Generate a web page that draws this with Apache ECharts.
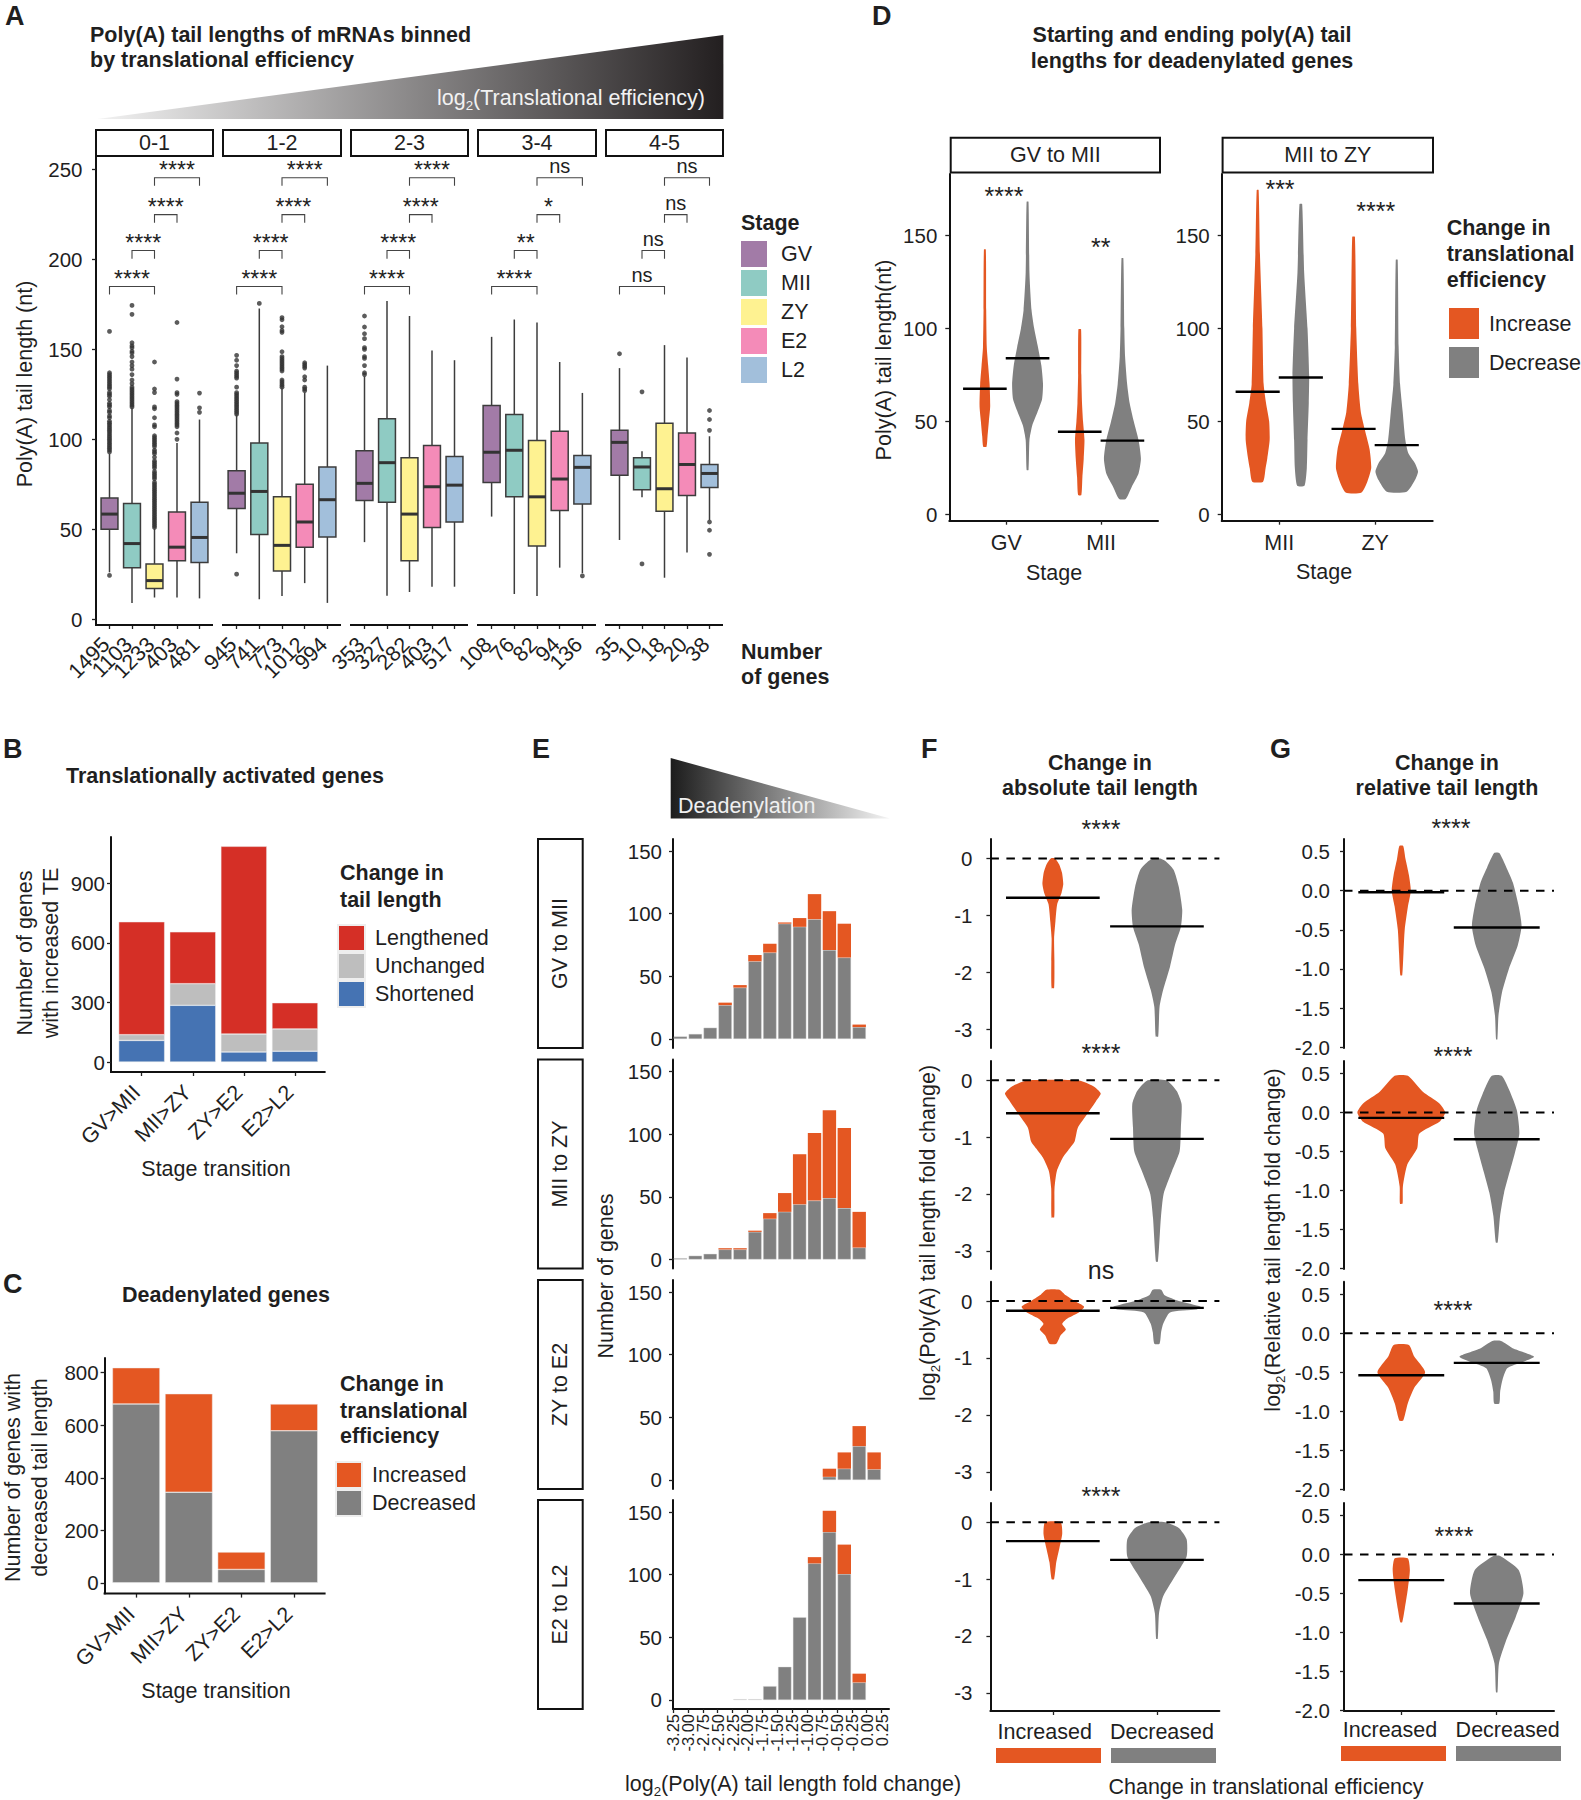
<!DOCTYPE html>
<html><head><meta charset="utf-8"><style>html,body{margin:0;padding:0;background:#fff}#c{width:1581px;height:1800px}</style>
<script src="https://cdn.jsdelivr.net/npm/echarts@6/dist/echarts.min.js"></script></head><body><div id="c"></div>
<script>
// ---------- Panel A data ----------
const stageNames = ['GV','MII','ZY','E2','L2'];
const binNames = ['0-1','1-2','2-3','3-4','4-5'];
const geneCounts = [['1495','1103','1233','403','481'],['945','741','773','1012','994'],['353','327','282','403','517'],['108','76','82','94','136'],['35','10','18','20','38']];
// each row: low, q1, median, q3, high
const boxes01 = [[26,50,58.4,67.3,92],[9,28.6,42,64.3,117.5],[12,17,21.4,30.7,50.4],[12,32.5,40,59.5,98],[11.5,31.4,45.4,65,111]];
const boxes12 = [[36.6,61.5,70,82.5,113.8],[11,47,71,98,172.7],[12.8,26.8,41,68,128.6],[20,40,54,75,126],[9,45.7,66.4,84.6,141]];
const boxes23 = [[42.8,66,75.5,93.7,135],[13,65,87,111.5,177],[15,32.5,58.4,89.8,168.6],[18,51,73.6,96.5,149.4],[18,54,74.5,90.5,144]];
const boxes34 = [[57,76,92.8,118.8,157],[14,68,93.9,113.8,166.7],[12.8,40.7,68,99.3,165],[28.6,60.4,77.9,104.5,143],[25.5,64,84.4,91,125.8]];
const boxes45 = [[44,80,98.3,105,139.6],[67.8,72,84.6,89.8,93.3],[23,60,72.5,109,152.4],[37,68.8,86,103.5,145.5],[55,73.2,81,86,101.7]];
const outliers01 = [[24.3,160,137,136,135,134,133,132,131,130,129,128,126,125,124,122,120,119,118,116,115,113,112,110,109,108,107,106,105,104,103,102,101,100,99,98,97,96,95,94,93],
 [174.5,169.5,153.7,152,151,149,148,146,143,141,139,136,133,131,129,128,127,126,125,124,123,122,121,120,119,118],
 [143,128,126,118,117,112,108,107,102,101,100,99,98,97,96,94,93,92,90,88,87,86,85,84,82,81,80,79,78,76,75,74,73,72,71,70,69,68,67,66,65,64,63,62,61,60,59,58,57,56,55,54,53,52,51],
 [165,133.5,126,125,121,120,119,118,117,116,115,114,113,112,111,110,109,108,107,103.5,100],
 [125.7,117.5,115]];
const outliers12 = [[25,146.7,144,141,138,137,136,135,134,129,126,125,124,123,122,121,120,119,118,117,116,115,114],[175.6],
 [167.7,166.5,162.6,160.5,159.5,148.7,146,145,144,143,142,141,140,139,138,133,132,131,130,129],[142.6,141.6,140.6,139.6,134.8,133,129,128,127],[]];
const outliers23 = [[168.6,162.5,158.7,156,151,150,146,145,141,137,136],[],[],[],[]];
const outliers34 = [[],[],[],[],[24]];
const outliers45 = [[147.6],[126.4,30.7],[],[],[116,111,105,54,49.4,36]];
const sigLabels = [['****','****','****','****'],['****','****','****','****'],['****','****','****','****'],['****','**','*','ns'],['ns','ns','ns','ns']];
// first box index, last box index, bracket height
const sigBrackets = [[0,2,185],[1,2,205],[2,3,225],[2,4,245.5]];
const tickA = [0,50,100,150,200,250];
// ---------- Panels B, C ----------
const transitions = ['GV>MII','MII>ZY','ZY>E2','E2>L2'];
const bShortened = [109,286,51,55];
const bUnchanged = [29,109,90,112];
const bLengthened = [569,261,946,132];
const cDecreased = [681,345,51,579];
const cIncreased = [138,375,66,102];
const tickB = [0,300,600,900];
const tickC = [0,200,400,600,800];
// ---------- Panel E ----------
const binCenters = [-3.125,-2.875,-2.625,-2.375,-2.125,-1.875,-1.625,-1.375,-1.125,-0.875,-0.625,-0.375,-0.125,0.125];
const binEdgeLabels = ['-3.25','-3.00','-2.75','-2.50','-2.25','-2.00','-1.75','-1.50','-1.25','-1.00','-0.75','-0.50','-0.25','0.00','0.25'];
const eGray1 = [2,4,9,27,41,62,69,92,89.5,95.6,71,65,9.5,0];
const eOrange1 = [0,0,0,2,2,5,7,1,7,20,31,27,2,0];
const eGray2 = [1,3,4.5,8,8,22,32.5,38,44,47,49,41,9.5,0];
const eOrange2 = [0,0,0,1,1,1,4.5,15,40,54,70,64,28.5,0];
const eGray3 = [0,0,0,0,0,0,0,0,0,0,2.5,9,27,8.5];
const eOrange3 = [0,0,0,0,0,0,0,0,0,0,6.5,13,16,13.5];
const eGray4 = [0,0,0,0,0.6,0.6,11,26.5,66,109,134,100.5,14,0];
const eOrange4 = [0,0,0,0,0,0,0,0,0,5,17,23.5,7,0];
const tickE = [0,50,100,150];
const eFacetNames = ['GV to MII','MII to ZY','ZY to E2','E2 to L2'];
// ---------- Violin profiles: [tail value, half width] ----------
const dGvInc = [[142.6,.01],[110,.014],[90,.02],[80,.035],[70,.05],[58,.056],[50,.042],[42,.028],[36.4,.017]];
const dGvDec = [[168.3,.01],[130,.02],[110,.042],[100,.07],[90,.11],[80,.146],[70,.163],[62,.153],[55,.104],[48,.05],[40,.02],[23.9,.01]];
const dMiiInc = [[99.6,.014],[75,.017],[60,.024],[50,.035],[40,.05],[30,.042],[20,.028],[10.4,.017]];
const dMiiDec = [[137.8,.01],[100,.02],[85,.028],[70,.05],[60,.076],[50,.12],[40,.17],[30,.195],[22,.17],[15,.1],[8.3,.035]];
const d2MiiInc = [[174.6,.01],[140,.024],[100,.05],[70,.0625],[60,.087],[50,.12],[40,.125],[30,.1],[25,.083],[17.6,.056]];
const d2MiiDec = [[167,.014],[130,.035],[100,.07],[75,.087],[60,.083],[40,.07],[25,.0625],[15.4,.038]];
const d2ZyInc = [[149.4,.014],[100,.028],[70,.05],[55,.076],[45,.12],[35,.167],[25,.184],[18,.146],[11.8,.083]];
const d2ZyDec = [[137,.01],[90,.02],[70,.035],[55,.0625],[40,.09],[33,.12],[27.5,.19],[23,.222],[18.5,.19],[12.2,.104]];
const tickD = [0,50,100,150];
const f1Inc = [[0,.02],[-.1,.06],[-.25,.088],[-.45,.1],[-.6,.084],[-.8,.042],[-1.1,.025],[-1.4,.012],[-1.8,.015],[-2.27,.012]];
const f1Dec = [[0,.033],[-.05,.084],[-.2,.16],[-.5,.21],[-.9,.243],[-1.2,.23],[-1.5,.176],[-1.9,.125],[-2.3,.06],[-2.6,.025],[-3.12,.012]];
const f2Inc = [[0,.24],[-.1,.385],[-.23,.46],[-.36,.417],[-.58,.336],[-.835,.24],[-1.07,.21],[-1.2,.16],[-1.36,.096],[-1.6,.038],[-1.9,.016],[-2.41,.013]];
const f2Dec = [[0,.09],[-.19,.19],[-.42,.237],[-.835,.23],[-1.25,.218],[-1.6,.144],[-2,.064],[-2.42,.038],[-3.19,.01]];
const f3Inc = [[.2,.063],[.1,.125],[0,.21],[-.1,.3],[-.2,.25],[-.3,.146],[-.4,.09],[-.5,.125],[-.6,.075],[-.75,.033]];
const f3Dec = [[.2,.04],[.1,.075],[0,.21],[-.1,.42],[-.15,.38],[-.2,.125],[-.4,.06],[-.55,.04],[-.75,.025]];
const f4Inc = [[0,.075],[-.2,.09],[-.45,.063],[-.7,.033],[-1,.012]];
const f4Dec = [[0,.08],[-.1,.21],[-.3,.285],[-.6,.285],[-.9,.19],[-1.3,.06],[-1.6,.02],[-2.05,.008]];
const g1Inc = [[.57,.02],[.4,.045],[.2,.08],[0,.1],[-.2,.07],[-.5,.036],[-.8,.023],[-1.08,.01]];
const g1Dec = [[.48,.027],[.3,.1],[.1,.17],[-.2,.23],[-.45,.26],[-.7,.22],[-1,.127],[-1.3,.055],[-1.6,.018],[-1.9,.007]];
const g2Inc = [[.47,.07],[.264,.226],[.115,.4],[0,.46],[-.12,.4],[-.27,.19],[-.46,.167],[-.67,.063],[-.95,.017],[-1.17,.014]];
const g2Dec = [[.47,.052],[.285,.132],[.03,.21],[-.27,.237],[-.52,.19],[-1.03,.077],[-1.33,.035],[-1.67,.01]];
const g3Inc = [[-.15,.08],[-.3,.136],[-.5,.25],[-.7,.136],[-.9,.068],[-1.12,.02]];
const g3Dec = [[-.1,.045],[-.2,.18],[-.3,.39],[-.37,.27],[-.45,.11],[-.6,.06],[-.75,.036],[-.9,.027]];
const g4Inc = [[-.05,.068],[-.2,.09],[-.45,.068],[-.7,.036],[-.87,.01]];
const g4Dec = [[-.02,.036],[-.2,.23],[-.5,.28],[-.8,.2],[-1.1,.1],[-1.4,.023],[-1.77,.008]];
const fMedians = [[-.69,-1.19],[-.58,-1.03],[-.17,-.12],[-.33,-.66]];
const gMedians = [[-.02,-.47],[-.07,-.345],[-.54,-.38],[-.33,-.63]];
const dMedians = [[67.6,84,44.5,39.7],[66,73.7,46,37.3]];
const tickF = [0,-1,-2,-3];
const tickG = [.5,0,-.5,-1,-1.5,-2];

// ---------- Styling ----------
const FF='Liberation Sans', INK='#1f1f1f', TICK=20.5, LAB=21.5, HEAD=21.5;
const stageColors=['#A27BA7','#8FCBC3','#FEF291','#F48BB8','#A2BFDB'];
const ORANGE='#E45722', GRAY='#808080', RED='#D52F26', LG='#BEBEBE', BLUE='#4573B3';
const grids=[],xAxes=[],yAxes=[],series=[],graphic=[];
const tickLine={color:'#222',width:1.3};

function T(text,x,y,o={}){graphic.push({type:'text',x,y,rotation:o.rot||0,z:60,silent:true,style:{text,fill:o.fill||INK,fontSize:o.fs||(o.bold?HEAD:LAB),fontWeight:o.bold?'bold':'normal',fontFamily:FF,align:o.align||'left',verticalAlign:'middle',rich:o.rich}})}
function strip(x0,y0,x1,y1,text,rot){graphic.push({type:'rect',z:55,silent:true,shape:{x:x0,y:y0,width:x1-x0,height:y1-y0},style:{fill:'#fff',stroke:'#111',lineWidth:2}});T(text,(x0+x1)/2,(y0+y1)/2,{align:'center',rot:rot||0})}
function key(x0,y0,x1,y1,c){graphic.push({type:'rect',z:55,silent:true,shape:{x:x0,y:y0,width:x1-x0,height:y1-y0},style:{fill:c}})}
function subRich(fs,fill){const c=fill||INK;return {a:{fontSize:fs,fontFamily:FF,fill:c,lineHeight:fs+6,verticalAlign:'middle'},s:{fontSize:fs*0.62,fontFamily:FF,fill:c,lineHeight:fs+6,verticalAlign:'bottom',padding:[fs*0.45,0,0,0]}}}
function addGrid(l,t,r,b,xc,yc){const i=grids.length;grids.push({left:l,top:t,width:r-l,height:b-t,containLabel:false});
 xAxes.push(Object.assign({type:'value',gridIndex:i,splitLine:{show:false},axisLine:{show:true,onZero:false,lineStyle:{color:'#111',width:2}},axisTick:{show:true,length:4,lineStyle:tickLine},axisLabel:{show:false,fontFamily:FF,color:INK,fontSize:TICK,margin:7}},xc));
 yAxes.push(Object.assign({type:'value',gridIndex:i,splitLine:{show:false},axisLine:{show:true,onZero:false,lineStyle:{color:'#111',width:2}},axisTick:{show:true,length:4,lineStyle:tickLine},axisLabel:{show:true,fontFamily:FF,color:INK,fontSize:TICK,margin:6}},yc));
 return i}
function ticks(vals,fmt,margin){return {axisTick:{show:true,length:4,lineStyle:tickLine,customValues:vals},axisLabel:{show:true,fontFamily:FF,color:INK,fontSize:TICK,margin:margin==null?6:margin,customValues:vals,showMinLabel:true,showMaxLabel:true,formatter:fmt||(v=>String(v))}}}
function baseLine(l,r,y){graphic.push({type:'line',z:20,silent:true,shape:{x1:l-1,y1:y,x2:r,y2:y},style:{stroke:'#111',lineWidth:2}})}

// ---------- Panel A ----------
T('A',5,16,{bold:true,fs:27});
T('Poly(A) tail lengths of mRNAs binned',90,34.5,{bold:true});
T('by translational efficiency',90,60,{bold:true});
graphic.push({type:'polygon',z:40,silent:true,shape:{points:[[97.7,119],[723.4,119],[723.4,35]]},style:{fill:new echarts.graphic.LinearGradient(0,0,1,0,[{offset:0,color:'#f2f2f2'},{offset:1,color:'#231f20'}])}});
T('{a|log}{s|2}{a|(Translational efficiency)}',437,98,{rich:subRich(21.5,'#f2f2f2')});
const facetX=[[96,213],[223,341],[351,468],[478,596],[606,723]];
const allBoxes=[boxes01,boxes12,boxes23,boxes34,boxes45], allOut=[outliers01,outliers12,outliers23,outliers34,outliers45];
facetX.forEach((fx,f)=>{
 strip(fx[0],130,fx[1],156,binNames[f]);
 const ins=.1*(fx[1]-fx[0])/5.2;
 const yc=f===0?Object.assign({min:-3.3,max:257.6,offset:ins},ticks(tickA,null,13.5)):{min:-3.3,max:257.6,show:false};
 const g=addGrid(fx[0]+ins,156,fx[1]-ins,625,{type:'category',data:geneCounts[f],boundaryGap:true,
   axisLine:{show:false,onZero:false},
   axisTick:{show:true,alignWithLabel:true,length:4,lineStyle:tickLine},
   axisLabel:{show:true,interval:0,rotate:45,fontFamily:FF,color:INK,fontSize:LAB,margin:12.5,padding:[0,5,0,0]}},yc);
 baseLine(fx[0],fx[1],625);
 series.push({type:'custom',name:'Box '+binNames[f],xAxisIndex:g,yAxisIndex:g,silent:true,clip:false,z:3,
  data:allBoxes[f].map((b,i)=>[i].concat(b)),encode:{x:0,y:[1,2,3,4,5]},
  renderItem:(p,api)=>{const c=api.value(0),hw=.375*api.size([1,0])[0];const Y=v=>api.coord([c,v])[1],cx=api.coord([c,0])[0];
   const st={stroke:'#3c3c3c',lineWidth:1.5};
   return {type:'group',children:[
    {type:'line',shape:{x1:cx,y1:Y(api.value(1)),x2:cx,y2:Y(api.value(5))},style:st},
    {type:'rect',shape:{x:cx-hw,y:Y(api.value(4)),width:2*hw,height:Y(api.value(2))-Y(api.value(4))},style:{fill:stageColors[p.dataIndex],stroke:'#3c3c3c',lineWidth:1.5}},
    {type:'line',shape:{x1:cx-hw,y1:Y(api.value(3)),x2:cx+hw,y2:Y(api.value(3))},style:{stroke:'#333',lineWidth:3}}]}}});
 const out=[];allOut[f].forEach((a,i)=>a.forEach(v=>out.push([i,v])));
 if(out.length)series.push({type:'scatter',name:'Outliers '+binNames[f],xAxisIndex:g,yAxisIndex:g,silent:true,data:out,symbolSize:4.8,itemStyle:{color:'#333'},z:2});
 series.push({type:'custom',name:'Significance '+binNames[f],xAxisIndex:g,yAxisIndex:g,silent:true,clip:false,z:4,
  data:sigBrackets.map(b=>b.slice()),encode:{x:[0,1],y:2},
  renderItem:(p,api)=>{const a=api.coord([api.value(0),api.value(2)]),b=api.coord([api.value(1),api.value(2)]),tip=api.coord([api.value(0),api.value(2)-4.5])[1];
   const lab=sigLabels[f][p.dataIndex],isNs=lab==='ns';
   return {type:'group',children:[
    {type:'polyline',shape:{points:[[a[0],tip],a,b,[b[0],tip]]},style:{stroke:'#444',lineWidth:1.1,fill:null}},
    {type:'text',x:(a[0]+b[0])/2,y:a[1]-(isNs?12:8),style:{text:lab,fontFamily:FF,fontSize:isNs?20:23,fill:INK,align:'center',verticalAlign:'middle'}}]}}});
});
T('Poly(A) tail length (nt)',24.5,384,{rot:Math.PI/2,align:'center'});
T('Stage',741,222.5,{bold:true});
stageNames.forEach((s,i)=>{key(741,241+i*29,767,267+i*29,stageColors[i]);T(s,781,254+i*29)});
T('Number',741,651.5,{bold:true});T('of genes',741,677,{bold:true});

// ---------- Bars helper: category band inset so bands match the ggplot expansion ----------
function barPanel(l,t,r,b,yMin,yMax,tickVals,vals,colors,names,width,stack){
 const n=transitions.length,band=(r-l)/(n+.2),ins=.1*band;
 const g=addGrid(l+ins,t,r-ins,b,{type:'category',data:transitions,boundaryGap:true,
   axisLine:{show:false,onZero:false},
   axisTick:{show:true,alignWithLabel:true,length:4,lineStyle:tickLine},
   axisLabel:{show:true,interval:0,rotate:45,fontFamily:FF,color:INK,fontSize:LAB,margin:12,padding:[0,7,0,0]}},
   Object.assign({min:yMin,max:yMax,offset:ins},ticks(tickVals)));
 vals.forEach((v,k)=>series.push({type:'bar',name:names[k],stack,xAxisIndex:g,yAxisIndex:g,barWidth:width,silent:true,
   itemStyle:{color:colors[k],borderColor:'#eee',borderWidth:.5},data:v}));
 baseLine(l,r,b);
}
// ---------- Panel B ----------
T('B',3,749,{bold:true,fs:27});
T('Translationally activated genes',66,775.5,{bold:true});
barPanel(111,837,325.6,1072,-50,1134,tickB,[bShortened,bUnchanged,bLengthened],[BLUE,LG,RED],['Shortened','Unchanged','Lengthened'],46,'B');
T('Number of genes',25,953,{rot:Math.PI/2,align:'center'});
T('with increased TE',51,953,{rot:Math.PI/2,align:'center'});
T('Stage transition',216,1169,{align:'center'});
T('Change in',340,873,{bold:true});T('tail length',340,900,{bold:true});
// ---------- Panel C ----------
T('C',3,1284,{bold:true,fs:27});
T('Deadenylated genes',122,1295,{bold:true});
barPanel(104.6,1358,325.6,1593.6,-41,856,tickC,[cDecreased,cIncreased],[GRAY,ORANGE],['Decreased','Increased'],47.5,'C');
T('Number of genes with',13,1477.5,{rot:Math.PI/2,align:'center'});
T('decreased tail length',40,1477.5,{rot:Math.PI/2,align:'center'});
T('Stage transition',216,1691,{align:'center'});
T('Change in',340,1384,{bold:true});T('translational',340,1410.5,{bold:true});T('efficiency',340,1436,{bold:true});

// ---------- Panel E ----------
T('E',532,749,{bold:true,fs:27});
graphic.push({type:'polygon',z:40,silent:true,shape:{points:[[670.7,758],[670.7,818.5],[890,818.5]]},style:{fill:new echarts.graphic.LinearGradient(0,0,1,0,[{offset:0,color:'#1c1c1c'},{offset:1,color:'#f4f4f4'}])}});
T('Deadenylation',678,805.5,{fill:'#f0f0f0'});
const eGrayAll=[eGray1,eGray2,eGray3,eGray4],eOrangeAll=[eOrange1,eOrange2,eOrange3,eOrange4];
const eY=[[839,1048],[1059.5,1268.5],[1280,1489],[1500,1709]];
// Positions along the axis alternate: bin edge (tick + label), bin centre (bar); one trailing slot for the expansion.
const ePositions=[];binEdgeLabels.forEach((lab,i)=>{ePositions.push(lab);ePositions.push(i<binCenters.length?String(binCenters[i]):'')});
const eSlots=arr=>ePositions.map((_,i)=>{if(i%2===0)return null;const k=(i-1)/2;return k<arr.length&&arr[k]>0?arr[k]:null});
eY.forEach((fy,f)=>{
 strip(538,fy[0],582.7,fy[1],eFacetNames[f],Math.PI/2);
 const last=f===3;
 const xc={type:'category',data:ePositions,boundaryGap:false,axisLine:{show:last,onZero:false,lineStyle:{color:'#111',width:2}},
  axisTick:{show:last,alignWithLabel:true,length:4,lineStyle:tickLine,interval:i=>i%2===0},
  axisLabel:{show:last,rotate:90,fontFamily:FF,color:INK,fontSize:16.5,margin:5,interval:0,formatter:(v,i)=>i%2===0?v:''}};
 const g=addGrid(673,fy[0],889,fy[1],xc,Object.assign({min:-7.2,max:159.6},ticks(tickE,null,11)));
 series.push({type:'bar',name:'Decreased',stack:'E'+f,xAxisIndex:g,yAxisIndex:g,barWidth:13.4,silent:true,itemStyle:{color:GRAY,borderColor:'#ddd',borderWidth:.4},data:eSlots(eGrayAll[f])});
 series.push({type:'bar',name:'Increased',stack:'E'+f,xAxisIndex:g,yAxisIndex:g,barWidth:13.4,silent:true,itemStyle:{color:ORANGE},data:eSlots(eOrangeAll[f])});
});
T('Number of genes',606,1276,{rot:Math.PI/2,align:'center'});
T('{a|log}{s|2}{a|(Poly(A) tail length fold change)}',793,1784,{align:'center',rich:subRich(21.5)});

// ---------- Violins ----------
function violin(name,color,profile,center,median,g,halfLen,lw){
 series.push({type:'custom',name,xAxisIndex:g,yAxisIndex:g,silent:true,clip:false,z:3,itemStyle:{color},
  data:[[center,median]],encode:{x:0,y:1},
  renderItem:(p,api)=>{const c=api.value(0),m=api.value(1);
   const L=profile.map(r=>api.coord([c-r[1],r[0]])),R=profile.slice().reverse().map(r=>api.coord([c+r[1],r[0]]));
   const a=api.coord([c-halfLen,m]),b=api.coord([c+halfLen,m]);
   return {type:'group',children:[
    {type:'polygon',shape:{points:L.concat(R),smooth:.2},style:{fill:color}},
    {type:'line',shape:{x1:a[0],y1:a[1],x2:b[0],y2:b[1]},style:{stroke:'#000',lineWidth:lw}}]}}});
}
// ---------- Panel D ----------
T('D',872,16,{bold:true,fs:27});
T('Starting and ending poly(A) tail',1192,34.5,{bold:true,align:'center'});
T('lengths for deadenylated genes',1192,60.5,{bold:true,align:'center'});
const dGroups=[{x:[949.3,1158],strip:[950.7,1160],name:'GV to MII',stages:['GV','MII'],v:[dGvInc,dGvDec,dMiiInc,dMiiDec]},
 {x:[1221.7,1432.7],strip:[1222.6,1433],name:'MII to ZY',stages:['MII','ZY'],v:[d2MiiInc,d2MiiDec,d2ZyInc,d2ZyDec]}];
dGroups.forEach((d,k)=>{
 strip(d.strip[0],137.7,d.strip[1],172.5,d.name);
 const st=d.stages;
 const g=addGrid(d.x[0],174,d.x[1],520.7,{min:.4,max:2.6,axisTick:{show:true,length:4,lineStyle:tickLine,customValues:[1,2]},
  axisLabel:{show:true,fontFamily:FF,color:INK,fontSize:LAB,margin:11,customValues:[1,2],showMinLabel:true,showMaxLabel:true,formatter:v=>st[v-1]}},
  Object.assign({min:-3.4,max:183.2},ticks(tickD,null,12)));
 [[1-.225,0],[1+.225,1],[2-.225,2],[2+.225,3]].forEach(([c,i])=>violin(i%2?'Decrease':'Increase',i%2?GRAY:ORANGE,d.v[i],c,dMedians[k][i],g,.23,2.4));
});
T('Poly(A) tail length(nt)',884,360,{rot:Math.PI/2,align:'center'});
T('Stage',1054,573,{align:'center'});T('Stage',1324,572,{align:'center'});
T('****',1004,196,{align:'center',fs:25});T('**',1100.7,247,{align:'center',fs:25});T('***',1280,189,{align:'center',fs:25});T('****',1375.7,210.5,{align:'center',fs:25});
T('Change in',1446.7,228,{bold:true});T('translational',1446.7,254,{bold:true});T('efficiency',1446.7,280,{bold:true});

// ---------- Panels F, G ----------
const fgY=[[839,1048],[1061,1269],[1281.7,1490],[1503,1711]];
const fProf=[[f1Inc,f1Dec],[f2Inc,f2Dec],[f3Inc,f3Dec],[f4Inc,f4Dec]],gProf=[[g1Inc,g1Dec],[g2Inc,g2Dec],[g3Inc,g3Dec],[g4Inc,g4Dec]];
function fg(xl,xr,yMin,yMax,tv,fmt,prof,med,margin){
 fgY.forEach((fy,f)=>{const last=f===3;
  const g=addGrid(xl,fy[0],xr,fy[1],{min:.4,max:2.6,axisLine:{show:last,onZero:false,lineStyle:{color:'#111',width:2}},axisTick:{show:last,length:4,lineStyle:tickLine,customValues:[1,2]},axisLabel:{show:false}},
   Object.assign({min:yMin,max:yMax},ticks(tv,fmt,margin)));
  series.push({type:'line',name:'Zero',xAxisIndex:g,yAxisIndex:g,silent:true,showSymbol:false,z:4,lineStyle:{color:'#000',width:2,type:[8.5,7.5]},data:[[.4,0],[2.6,0]]});
  violin('Increased',ORANGE,prof[f][0],1,med[f][0],g,.45,2.4);
  violin('Decreased',GRAY,prof[f][1],2,med[f][1],g,.45,2.4);
 });
}
T('F',921,749,{bold:true,fs:27});
T('Change in',1100,763,{bold:true,align:'center'});T('absolute tail length',1100,788,{bold:true,align:'center'});
fg(990.4,1219.4,-3.32,.34,tickF,v=>String(v),fProf,fMedians,18);
T('****',1101,828.5,{align:'center',fs:25});T('****',1101,1053,{align:'center',fs:25});T('ns',1101,1270,{align:'center',fs:25});T('****',1101,1495.5,{align:'center',fs:25});
T('Increased',1044.7,1731.7,{align:'center'});T('Decreased',1162,1731.7,{align:'center'});
key(996,1748,1101,1763,ORANGE);key(1111,1748,1216,1763,GRAY);
T('{a|log}{s|2}{a|(Poly(A) tail length fold change)}',928,1233,{rot:Math.PI/2,align:'center',rich:subRich(21.5)});
T('G',1270,749,{bold:true,fs:27});
T('Change in',1447,763,{bold:true,align:'center'});T('relative tail length',1447,788,{bold:true,align:'center'});
fg(1344,1554,-2.01,.66,tickG,v=>v.toFixed(1),gProf,gMedians,14);
T('****',1451,828,{align:'center',fs:25});T('****',1453,1056,{align:'center',fs:25});T('****',1453,1310,{align:'center',fs:25});T('****',1454,1536,{align:'center',fs:25});
T('Increased',1390,1730,{align:'center'});T('Decreased',1507.6,1730,{align:'center'});
key(1341,1746,1446,1761,ORANGE);key(1456,1746,1561,1761,GRAY);
T('{a|log}{s|2}{a|(Relative tail length fold change)}',1273,1240,{rot:Math.PI/2,align:'center',rich:subRich(21.5)});
T('Change in translational efficiency',1266,1787,{align:'center'});

const legendBase={orient:'vertical',icon:'rect',selectedMode:false,textStyle:{fontFamily:FF,fontSize:LAB,color:INK,padding:[0,0,0,5]},padding:0};
const legends=[
 Object.assign({},legendBase,{left:337,top:924,itemWidth:27,itemHeight:26,itemGap:0,data:['Lengthened','Unchanged','Shortened']}),
 Object.assign({},legendBase,{left:335,top:1461,itemWidth:26,itemHeight:26,itemGap:0,data:['Increased','Decreased']}),
 Object.assign({},legendBase,{left:1449,top:308,itemWidth:30,itemHeight:31,itemGap:8,data:['Increase','Decrease']})];

const chart=echarts.init(document.getElementById('c'),null,{renderer:'svg',width:1581,height:1800});
chart.setOption({animation:false,backgroundColor:'#fff',textStyle:{fontFamily:FF},grid:grids,xAxis:xAxes,yAxis:yAxes,series,graphic,legend:legends});
</script></body></html>
